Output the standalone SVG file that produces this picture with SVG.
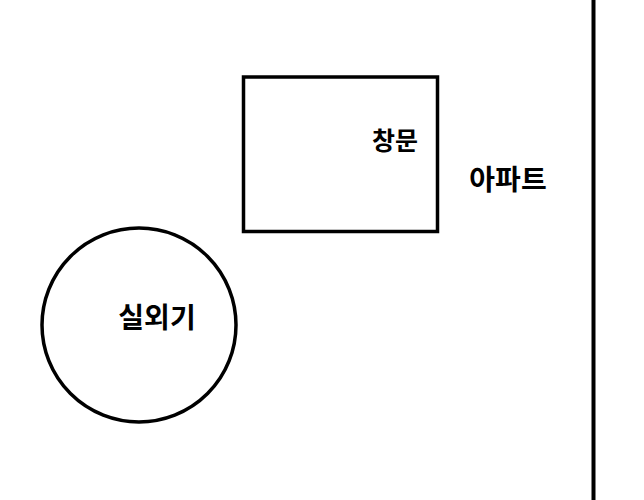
<svg xmlns="http://www.w3.org/2000/svg" width="644" height="500" viewBox="0 0 644 500">
<style>
.shape{fill:none;stroke:#000;stroke-width:3.5}
.lbl{font-family:"Noto Sans CJK KR","Noto Sans",sans-serif;font-weight:700;fill:#000;text-anchor:middle}
</style>
<rect width="644" height="500" fill="#fff"/>
<g id="wall"><line x1="593.5" y1="0" x2="593.5" y2="500" stroke="#000" stroke-width="4"/></g>
<g id="window"><rect class="shape" x="243.5" y="77" width="194" height="154.5"/><text class="lbl" x="395" y="150" font-size="25">창문</text></g>
<g id="apartment"><text class="lbl" x="508" y="190" font-size="28">아파트</text></g>
<g id="outdoor-unit"><circle class="shape" cx="139" cy="325" r="97"/><text class="lbl" x="157" y="328" font-size="28" font-weight="500">실외기</text></g>
<g id="connectors"/>
</svg>
